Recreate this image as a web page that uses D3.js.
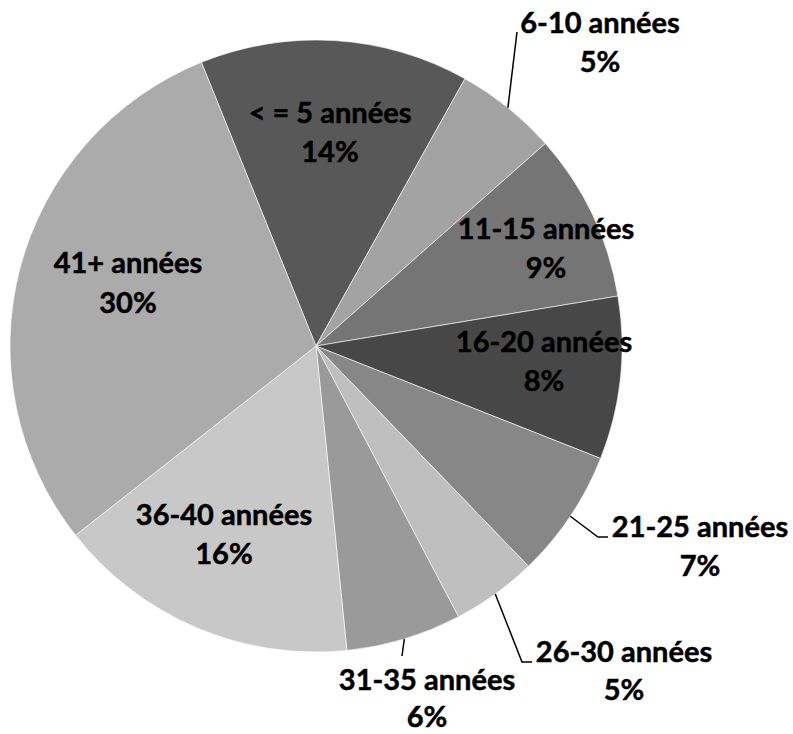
<!DOCTYPE html>
<html>
<head>
<meta charset="utf-8">
<script src="https://cdn.jsdelivr.net/npm/d3@7"></script>
<style>
  html, body { margin: 0; padding: 0; background: #fff; }
  svg text { font-family: Lato, "Open Sans", sans-serif; font-weight: bold; fill: #000; stroke: #000; stroke-width: 0.5px; }
</style>
</head>
<body>
<svg id="chart" width="793" height="734"></svg>
<script>
// ---- data ----
const categories = ["< = 5 années", "6-10 années", "11-15 années", "16-20 années", "21-25 années",
                    "26-30 années", "31-35 années", "36-40 années", "41+ années"];
const values = [14.2, 5.4, 8.9, 8.6, 6.8, 4.5, 6.1, 16.0, 29.5];
const percentLabels = ["14%", "5%", "9%", "8%", "7%", "5%", "6%", "16%", "30%"];

// ---- styling / layout ----
const colors = ["#585858", "#a3a3a3", "#757575", "#474747", "#878787",
                "#bfbfbf", "#9a9a9a", "#c8c8c8", "#ababab"];
const cx = 316, cy = 346, R = 306;
const startDeg = -22;
// label layout: inside labels give block centre x and first-line baseline;
// outside labels give leader path points (after the arc point) and text anchor
const labelLayout = [
  {type: "in", x: 330, y: 123, gap: 39},
  {type: "out", path: [[517, 32]], x: 600, y: 33, gap: 39},
  {type: "in", x: 546, y: 239, gap: 39},
  {type: "in", x: 544, y: 352, gap: 39},
  {type: "out", path: [[598, 537], [608, 537]], x: 700, y: 537, gap: 39},
  {type: "out", path: [[522, 662], [532, 662]], x: 624, y: 662, gap: 38},
  {type: "out", path: [[402, 656]], x: 427, y: 690, gap: 37},
  {type: "in", x: 224, y: 525, gap: 39},
  {type: "in", x: 128, y: 273, gap: 40}
];
const fontSize = 29;

const svg = d3.select("#chart");
const g = svg.append("g").attr("transform", `translate(${cx},${cy})`);

const pie = d3.pie().sort(null).value(d => d)
  .startAngle(startDeg * Math.PI / 180)
  .endAngle((startDeg + 360) * Math.PI / 180);
const arcs = pie(values);
const arc = d3.arc().innerRadius(0).outerRadius(R);

g.selectAll("path.slice").data(arcs).enter().append("path")
  .attr("class", "slice")
  .attr("d", arc)
  .attr("fill", (d, i) => colors[i])
  .attr("stroke", "#ffffff")
  .attr("stroke-width", 0.6);

// leader lines
arcs.forEach((d, i) => {
  const L = labelLayout[i];
  if (L.type !== "out") return;
  const a = (d.startAngle + d.endAngle) / 2;
  const p0 = [cx + R * Math.sin(a), cy - R * Math.cos(a)];
  const pts = [p0].concat(L.path);
  svg.append("path")
    .attr("d", d3.line()(pts))
    .attr("fill", "none")
    .attr("stroke", "#000")
    .attr("stroke-width", 1.5);
});

// labels
arcs.forEach((d, i) => {
  const L = labelLayout[i];
  const t = svg.append("text")
    .attr("text-anchor", "middle")
    .attr("font-size", fontSize);
  t.append("tspan").attr("x", L.x).attr("y", L.y).text(categories[i]);
  t.append("tspan").attr("x", L.x).attr("y", L.y + L.gap).text(percentLabels[i]);
});
</script>
</body>
</html>
